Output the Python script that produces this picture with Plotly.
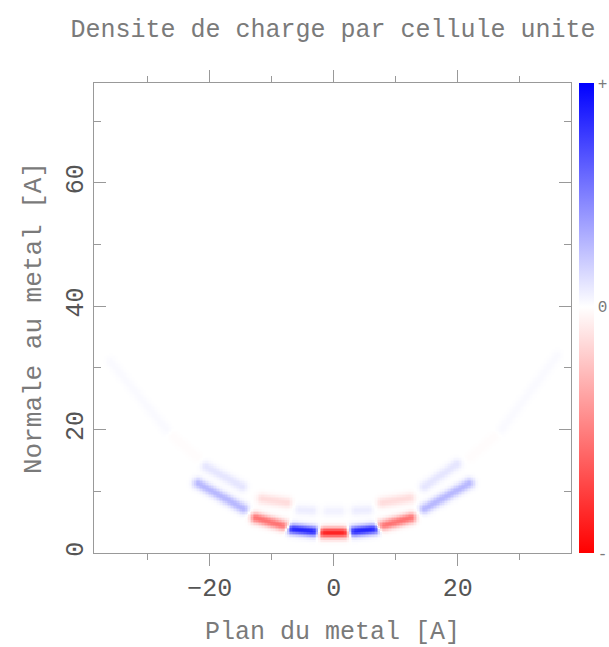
import numpy as np
import plotly.graph_objects as go

# ---- data (charge-density dashes along arcs) ----
# each dash: start point (x0, y0), end point (x1, y1), signed density value
seg_x0 = [-1.8, 3.0, -6.8, 7.6, -12.6, 14.6, -21.9,
          -11.6, 7.8, -5.5, -1.0, 3.5, -20.6, 14.6,
          -36.0, 27.0, -26.0, 22.0]
seg_y0 = [3.3, 3.5, 3.9, 4.4, 5.7, 7.2, 11.3,
          8.8, 8.2, 7.0, 6.8, 6.9, 14.0, 10.8,
          31.0, 20.0, 19.0, 15.5]
seg_x1 = [1.8, 6.6, -3.1, 12.4, -8.0, 21.8, -14.6,
          -7.6, 12.2, -3.5, 1.0, 5.5, -14.8, 19.8,
          -27.0, 36.0, -22.0, 26.0]
seg_y1 = [3.3, 3.9, 3.5, 5.7, 4.4, 11.3, 7.2,
          8.2, 8.9, 6.9, 6.8, 7.0, 10.8, 14.4,
          20.0, 32.0, 15.5, 19.0]
seg_val = [-0.95, 0.85, 0.85, -0.6, -0.6, 0.28, 0.28,
           -0.15, -0.15, 0.07, 0.05, 0.07, 0.1, 0.1,
           0.02, 0.02, -0.015, -0.015]

cbar_vals = [-1.1, 0.0, 1.0]
cbar_text = ["-", "0", "+"]
x_ticks = [-20, 0, 20]
y_ticks = [0, 20, 40, 60]

# ---- raster grid built from the dash list ----
gx = np.arange(-38.7, 38.5, 0.25)
gy = np.arange(0.0, 76.3, 0.25)
X, Y = np.meshgrid(gx, gy)
Z = np.zeros_like(X)
sig = 0.6
for x0, y0, x1, y1, v in zip(seg_x0, seg_y0, seg_x1, seg_y1, seg_val):
    dx, dy = x1 - x0, y1 - y0
    L2 = dx * dx + dy * dy
    t = np.clip(((X - x0) * dx + (Y - y0) * dy) / L2, 0, 1)
    px, py = x0 + t * dx, y0 + t * dy
    d2 = (X - px) ** 2 + (Y - py) ** 2
    Z += v * np.exp(-d2 / (2 * sig * sig))

zmin, zmax = cbar_vals[0], cbar_vals[-1]
zero_frac = -zmin / (zmax - zmin)
cscale = [[0, "rgb(255,0,0)"], [zero_frac, "rgb(255,255,255)"], [1, "rgb(0,0,255)"]]

FONT = "Liberation Mono"
GREY = "#7a7a7a"

fig = go.Figure(go.Heatmap(
    x=gx, y=gy, z=Z, zmin=zmin, zmax=zmax, colorscale=cscale,
    colorbar=dict(
        thickness=15, len=1, lenmode="fraction", y=0.5, yanchor="middle",
        x=1.0168, xanchor="left", xpad=0, ypad=0, outlinewidth=0,
        tickvals=cbar_vals, ticktext=cbar_text, ticks="",
        tickfont=dict(family=FONT, size=16, color=GREY),
    ),
    hoverinfo="skip",
))

fig.update_layout(
    width=609, height=647,
    margin=dict(l=94, r=38, t=83, b=94, autoexpand=False),
    paper_bgcolor="white", plot_bgcolor="white",
    title=dict(text="Densite de charge par cellule unite",
               x=333 / 609, xanchor="center", xref="container",
               y=1 - 28 / 647, yref="container", yanchor="middle",
               font=dict(family=FONT, size=25, color=GREY)),
    xaxis=dict(range=[-38.7, 38.3], tickvals=x_ticks, showgrid=False, zeroline=False,
               showline=True, linecolor="#999999", linewidth=1, mirror="ticks",
               ticks="outside", ticklen=12, tickcolor="#999999",
               minor=dict(dtick=10, tick0=0, ticks="outside", ticklen=6, tickcolor="#999999"),
               tickfont=dict(family=FONT, size=25, color="#555555"),
               title=dict(text="Plan du metal [A]", standoff=18,
                          font=dict(family=FONT, size=25, color=GREY))),
    yaxis=dict(range=[0, 76.2], tickvals=y_ticks, showgrid=False, zeroline=False,
               showline=True, linecolor="#999999", linewidth=1, mirror="ticks",
               ticks="inside", ticklen=12, tickcolor="#999999", tickangle=-90,
               minor=dict(dtick=10, tick0=0, ticks="inside", ticklen=7, tickcolor="#999999"),
               tickfont=dict(family=FONT, size=25, color="#555555"),
               title=dict(text="Normale au metal [A]", standoff=12,
                          font=dict(family=FONT, size=26, color=GREY))),
)

fig.write_html("out.html")
